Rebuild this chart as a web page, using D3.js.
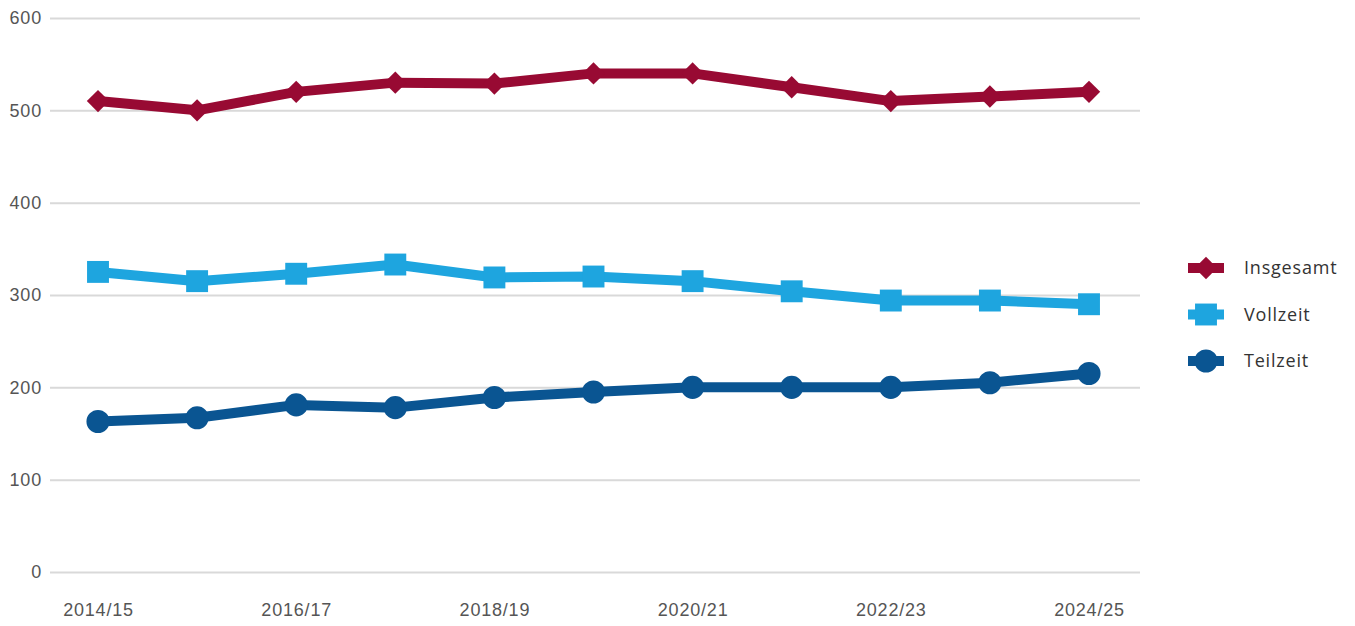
<!DOCTYPE html>
<html>
<head>
<meta charset="utf-8">
<script src="https://cdn.jsdelivr.net/npm/d3@7"></script>
<style>
  body { margin: 0; background: #fff; }
  svg { display: block; font-family: "Open Sans", "DejaVu Sans", sans-serif; }
</style>
</head>
<body>
<script>
// Schuljahre
var years = ["2014/15", "2015/16", "2016/17", "2017/18", "2018/19", "2019/20",
             "2020/21", "2021/22", "2022/23", "2023/24", "2024/25"];
var insgesamt = [510, 500, 520, 530, 529, 540, 540, 525, 510, 515, 520];
var vollzeit  = [325, 315, 323, 333, 319, 320, 315, 304, 294, 294, 290];
var teilzeit  = [163, 167, 181, 178, 189, 195, 200, 200, 200, 205, 215];
var yTicks = [0, 100, 200, 300, 400, 500, 600];
var xTickLabels = ["2014/15", "2016/17", "2018/19", "2020/21", "2022/23", "2024/25"];

var width = 1355;
var height = 626;

var svg = d3.select("body").append("svg")
    .attr("width", width)
    .attr("height", height);

var margin = { top: 18, bottom: 54, left: 50, right: 215 };
var plotWidth = width - margin.left - margin.right;
var plotHeight = height - margin.top - margin.bottom;

var plot = svg.append("g")
    .attr("transform", "translate(" + margin.left + "," + margin.top + ")");

var xScale = d3.scalePoint().domain(years).range([48, 1039]);
var yScale = d3.scaleLinear().domain([0, 600]).range([plotHeight, 0]);

// Gitterlinien + y-Achse
var yAxis = d3.axisLeft(yScale).tickValues(yTicks).tickSize(-plotWidth).tickPadding(8);
var yAxisGroup = plot.append("g").call(yAxis);
yAxisGroup.select(".domain").remove();
yAxisGroup.selectAll(".tick line").attr("stroke", "#d9d9d9").attr("stroke-width", 2);
yAxisGroup.selectAll(".tick text")
    .attr("fill", "#555")
    .style("font-size", "18px")
    .style("letter-spacing", "0.8px");

// x-Achse
var xAxis = d3.axisBottom(xScale).tickValues(xTickLabels).tickSize(0).tickPadding(31);
var xAxisGroup = plot.append("g")
    .attr("transform", "translate(0," + plotHeight + ")")
    .call(xAxis);
xAxisGroup.select(".domain").remove();
xAxisGroup.selectAll(".tick text")
    .attr("fill", "#555")
    .style("font-size", "18px")
    .style("letter-spacing", "0.8px");

var series = [
  { name: "Insgesamt", values: insgesamt, color: "#980a33", symbol: d3.symbolSquare, size: 250, rot: 45 },
  { name: "Vollzeit",  values: vollzeit,  color: "#1ea5df", symbol: d3.symbolSquare, size: 480, rot: 0 },
  { name: "Teilzeit",  values: teilzeit,  color: "#0a5592", symbol: d3.symbolCircle, size: 420, rot: 0 }
];

var line = d3.line()
    .x(function(d, i) { return xScale(years[i]); })
    .y(function(d) { return yScale(d); });

series.forEach(function(s) {
  var g = plot.append("g");
  g.append("path")
    .attr("d", line(s.values))
    .attr("fill", "none")
    .attr("stroke", s.color)
    .attr("stroke-width", 10)
    .attr("stroke-linejoin", "round");
  g.selectAll("path.marker")
    .data(s.values)
    .enter().append("path")
    .attr("class", "marker")
    .attr("d", d3.symbol().type(s.symbol).size(s.size))
    .attr("fill", s.color)
    .attr("transform", function(d, i) {
      return "translate(" + xScale(years[i]) + "," + yScale(d) + ") rotate(" + s.rot + ")";
    });
});

// Legende
var legend = svg.append("g").attr("transform", "translate(1206,268)");
series.forEach(function(s, i) {
  var item = legend.append("g").attr("transform", "translate(0," + (i * 46.5) + ")");
  item.append("line")
    .attr("x1", -18).attr("x2", 18)
    .attr("stroke", s.color).attr("stroke-width", 10);
  item.append("path")
    .attr("d", d3.symbol().type(s.symbol).size(s.size))
    .attr("transform", "rotate(" + s.rot + ")")
    .attr("fill", s.color);
  item.append("text")
    .attr("x", 38).attr("dy", "0.35em")
    .attr("fill", "#333")
    .style("font-size", "18px")
    .style("letter-spacing", "0.8px")
    .text(s.name);
});
</script>
</body>
</html>
